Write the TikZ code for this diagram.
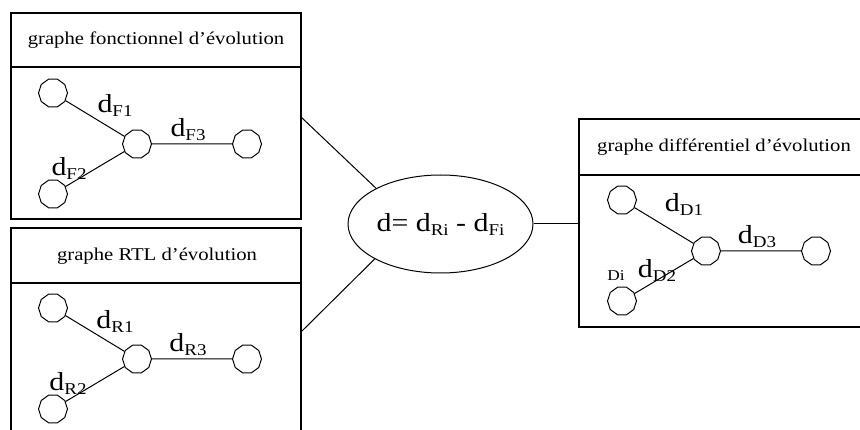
\documentclass[tikz,border=0pt]{standalone}
\usepackage{fontspec}
\setmainfont[FakeStretch=1.15]{Liberation Serif}
\usetikzlibrary{shapes.geometric, positioning}

\newcommand{\dlab}[1]{{\fontsize{26}{28}\selectfont d\raisebox{-4pt}{\fontsize{16.5}{18}\selectfont #1}}}

\begin{document}
\begin{tikzpicture}[x=1pt, y=-1pt,
    sommet/.style={draw, regular polygon, regular polygon sides=10, minimum size=29pt, inner sep=0pt, line width=1pt},
    arete/.style={line width=1pt},
    cadre/.style={line width=1.3pt},
    titre/.style={font=\fontsize{18}{20}\selectfont}]
    \clip (0,0) rectangle (860,430);

    % les trois cadres
    \draw[cadre] (11,13) rectangle (301,219);
    \draw[cadre] (11,67) -- (301,67);
    \node[titre] (tf) at (156,40) {graphe fonctionnel d’évolution};

    \draw[cadre] (11,228) rectangle (301,445);
    \draw[cadre] (11,283) -- (301,283);
    \node[titre] (tr) at (157,256) {graphe RTL d’évolution};

    \draw[cadre] (579,119) rectangle (875,327);
    \draw[cadre] (579,175) -- (875,175);
    \node[titre] (td) at (724,147) {graphe différentiel d’évolution};

    % les graphes
    \foreach \gx/\gy/\L/\ua/\ub/\uc in {53/93/F/12/16/75, 53/308/R/13/15/75, 622/200/D/4/35/70} {
        \node[sommet] (a\L) at (\gx,\gy) {};
        \node[sommet] (c\L) at (\gx+84,\gy+51) {};
        \node[sommet] (r\L) at (\gx+194,\gy+51) {};
        \node[sommet] (b\L) at (\gx,\gy+101) {};
        \draw[arete] (a\L) -- (c\L) -- (r\L);
        \draw[arete] (b\L) -- (c\L);
        \node (l\L1) at (\gx+62,\gy+\ua) {\dlab{\L1}};
        \node (l\L3) at (\gx+135,\gy+37) {\dlab{\L3}};
        \node (l\L2) at (\gx+\ub,\gy+\uc) {\dlab{\L2}};
    }
    \node[font=\fontsize{15}{17}\selectfont] (di) at (616,276) {Di};

    % la difference
    \node[draw, ellipse, line width=1pt, minimum width=185pt, minimum height=98pt, inner sep=0pt,
        font=\fontsize{26}{28}\selectfont] (ell) at (440.5,224)
        {d= \dlab{Ri} - \dlab{Fi}};
    \coordinate (pf) at (301,117);
    \coordinate (pr) at (301,332);
    \coordinate (pd) at (579,224);
    \draw[arete] (pf) -- (ell.151.5);
    \draw[arete] (pr) -- (ell.208.5);
    \draw[arete] (ell) -- (pd);
\end{tikzpicture}
\end{document}
